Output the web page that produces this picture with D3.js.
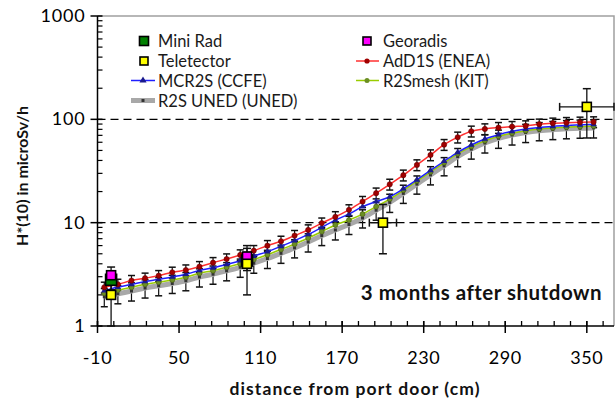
<!DOCTYPE html>
<html><head><meta charset="utf-8">
<script src="https://cdn.jsdelivr.net/npm/d3@7/dist/d3.min.js"></script>
<style>body{margin:0;background:#fff}svg{display:block;font-family:Lato,"Open Sans",sans-serif}</style>
</head><body><svg id="c" width="616" height="405"></svg>
<script>
const distances = [-5,5,15,25,35,45,55,65,75,85,95,105,115,125,135,145,155,165,175,185,195,205,215,225,235,245,255,265,275,285,295,305,315,325,335,345,355];
const ad1s   = [2.37,2.53,2.75,2.90,3.07,3.31,3.48,3.75,4.10,4.45,4.87,5.36,5.99,6.6,7.5,8.5,9.9,11.4,13.3,16.0,19.3,23.5,28.8,36.2,45.2,56.9,67.1,76.7,80.7,83.1,85.0,86.3,89.7,91.7,92.9,93.7,94.4];
const mcr2s  = [2.2,2.38,2.53,2.7,2.83,2.98,3.17,3.45,3.66,3.95,4.28,4.75,5.25,5.9,6.7,7.7,9.0,10.6,12.1,14.3,16.0,17.8,21.3,26,32,39.3,48,56.5,64.5,71,76.5,80.5,83.5,85.5,87,88.5,89.5];
const r2smesh= [2.07,2.23,2.37,2.53,2.65,2.79,2.96,3.24,3.43,3.70,4.0,4.4,4.9,5.5,6.2,7.1,8.2,9.5,10.6,12.1,14.3,16.9,20.6,25.3,31,38,46.5,54.5,62,68.5,73.5,77.5,80.5,82.5,84,85,86];
const uned   = [1.92,2.05,2.18,2.33,2.45,2.58,2.74,2.98,3.17,3.42,3.7,4.05,4.5,5.05,5.7,6.5,7.5,8.5,9.6,11.1,13.2,15.7,19.2,23.6,29,35.5,43.5,51.5,59,65.5,70.5,74.5,77.5,79.5,81,82,82.5];
const ad1sErr = 0.12, unedErr = 0.2;

const miniRadX = [0,100], miniRadY = [2.8,4.3];
const georadisX = [0,100], georadisY = [3.1,4.7];
const measErr = 0.2;
const teleX = [0,100,200,350], teleY = [2.0,4.0,10.0,132], teleXErr = [0,0,10,20];
const teleErr = 0.5;

const xTicks = [-10,50,110,170,230,290,350];
const yTicks = [1,10,100,1000];

const svg = d3.select("#c");
const x = d3.scaleLinear().domain([-10,370]).range([97.5,614]);
const y = d3.scaleLog().domain([1,1000]).range([326,16]);

// frame
svg.append("path").attr("d",`M97.5,16H614V326`).attr("fill","none").attr("stroke","#a0a0a0").attr("stroke-width",1.5);

// dashed reference lines
[10,100].forEach(v=>{
  svg.append("line").attr("x1",97.5).attr("x2",614).attr("y1",y(v)).attr("y2",y(v))
    .attr("stroke","#000").attr("stroke-width",1.3).attr("stroke-dasharray","8,5");
});

// axes
const xMinor = d3.range(-10,371,12);
const gx = svg.append("g").attr("transform","translate(0,326)");
gx.append("line").attr("x1",97.5).attr("x2",614).attr("stroke","#000").attr("stroke-width",1.5);
gx.selectAll(".mn").data(xMinor).join("line").attr("x1",d=>x(d)).attr("x2",d=>x(d)).attr("y1",0).attr("y2",-5).attr("stroke","#000").attr("stroke-width",1.3);
gx.selectAll(".mj").data(xTicks).join("line").attr("x1",d=>x(d)).attr("x2",d=>x(d)).attr("y1",-5).attr("y2",7).attr("stroke","#000").attr("stroke-width",1.5);
gx.selectAll("text").data(xTicks).join("text").attr("x",d=>x(d)).attr("y",38).attr("text-anchor","middle")
  .attr("font-size",18).attr("letter-spacing",0.6).attr("fill","#000").text(d=>d);

const gy = svg.append("g").attr("transform","translate(97.5,0)");
gy.append("line").attr("y1",16).attr("y2",326).attr("stroke","#000").attr("stroke-width",1.5);
const yMinor = [];
[1,10,100].forEach(b=>{for(let k=2;k<10;k++) yMinor.push(b*k);});
gy.selectAll(".mn").data(yMinor).join("line").attr("y1",d=>y(d)).attr("y2",d=>y(d)).attr("x1",0).attr("x2",5).attr("stroke","#000").attr("stroke-width",1.2);
gy.selectAll(".mj").data(yTicks).join("line").attr("y1",d=>y(d)).attr("y2",d=>y(d)).attr("x1",-7).attr("x2",5).attr("stroke","#000").attr("stroke-width",1.5);
gy.selectAll("text").data(yTicks).join("text").attr("x",-12).attr("y",d=>y(d)+6).attr("text-anchor","end")
  .attr("font-size",18).attr("letter-spacing",0.8).attr("fill","#000").text(d=>d);

svg.append("text").attr("transform","translate(28,176) rotate(-90)").attr("text-anchor","middle")
  .attr("font-size",16).attr("font-weight",700).attr("fill","#111").text("H*(10) in microSv/h");
svg.append("text").attr("x",355).attr("y",395).attr("text-anchor","middle")
  .attr("font-size",17.5).attr("letter-spacing",1.1).attr("font-weight",700).attr("fill","#111").text("distance from port door (cm)");
svg.append("text").attr("x",602).attr("y",300).attr("text-anchor","end")
  .attr("font-size",20.5).attr("letter-spacing",0.5).attr("font-weight",700).attr("fill","#111").text("3 months after shutdown");

const line = d3.line().x((d,i)=>x(distances[i])).y(d=>y(d)).curve(d3.curveMonotoneX);
const gErr = svg.append("g");
function errBars(vals, frac){
  vals.forEach((v,i)=>{
    const xx = x(distances[i]), y1 = y(v*(1+frac)), y2 = y(v*(1-frac));
    gErr.append("line").attr("x1",xx).attr("x2",xx).attr("y1",y1).attr("y2",y2).attr("stroke","#111").attr("stroke-width",1.2);
    [y1,y2].forEach(yy=>gErr.append("line").attr("x1",xx-3.5).attr("x2",xx+3.5).attr("y1",yy).attr("y2",yy).attr("stroke","#111").attr("stroke-width",1.5));
  });
}
// UNED thick gray
errBars(uned, unedErr);
svg.append("path").datum(uned).attr("d",line).attr("fill","none").attr("stroke","#a8a8a8").attr("stroke-width",5);
svg.selectAll(".un").data(uned).join("rect").attr("x",(d,i)=>x(distances[i])-1.5).attr("y",d=>y(d)-1.5).attr("width",3).attr("height",3).attr("fill","#333");
// R2Smesh
svg.append("path").datum(r2smesh).attr("d",line).attr("fill","none").attr("stroke","#99cc00").attr("stroke-width",1.5);
svg.selectAll(".km").data(r2smesh).join("circle").attr("cx",(d,i)=>x(distances[i])).attr("cy",d=>y(d)).attr("r",2.5).attr("fill","#6b8e23").attr("stroke","#445511").attr("stroke-width",0.6);
// MCR2S
svg.append("path").datum(mcr2s).attr("d",line).attr("fill","none").attr("stroke","#1f1fff").attr("stroke-width",1.5);
svg.selectAll(".mc").data(mcr2s).join("path").attr("transform",(d,i)=>`translate(${x(distances[i])},${y(d)})`).attr("d",d3.symbol(d3.symbolTriangle,18)()).attr("fill","#1a1a8c");
// AdD1S
errBars(ad1s, ad1sErr);
svg.append("path").datum(ad1s).attr("d",line).attr("fill","none").attr("stroke","#ff3030").attr("stroke-width",1.5);
svg.selectAll(".ad").data(ad1s).join("circle").attr("cx",(d,i)=>x(distances[i])).attr("cy",d=>y(d)).attr("r",2.6).attr("fill","#a00000").attr("stroke","#600").attr("stroke-width",0.6);

// measurements
const gm = svg.append("g");
function vbar(xv, v, frac, xe){
  const xx = x(xv), y1 = y(v*(1+frac)), y2 = y(Math.max(v*(1-frac),1));
  gm.append("line").attr("x1",xx).attr("x2",xx).attr("y1",y1).attr("y2",y2).attr("stroke","#111").attr("stroke-width",1.3);
  [y1,y2].forEach(yy=>gm.append("line").attr("x1",xx-4).attr("x2",xx+4).attr("y1",yy).attr("y2",yy).attr("stroke","#111").attr("stroke-width",1.5));
  if(xe){
    const x1 = x(xv-xe), x2 = x(xv+xe), yy = y(v);
    gm.append("line").attr("x1",x1).attr("x2",x2).attr("y1",yy).attr("y2",yy).attr("stroke","#111").attr("stroke-width",1.3);
    [x1,x2].forEach(xq=>gm.append("line").attr("x1",xq).attr("x2",xq).attr("y1",yy-4).attr("y2",yy+4).attr("stroke","#111").attr("stroke-width",1.5));
  }
}
function sq(g, cx, cy, s, fill){
  g.append("rect").attr("x",cx-s/2).attr("y",cy-s/2).attr("width",s).attr("height",s).attr("fill",fill).attr("stroke","#000").attr("stroke-width",1.6);
}
miniRadX.forEach((d,i)=>vbar(d,miniRadY[i],measErr));
georadisX.forEach((d,i)=>vbar(d,georadisY[i],measErr));
teleX.forEach((d,i)=>vbar(d,teleY[i],teleErr,teleXErr[i]));
miniRadX.forEach((d,i)=>sq(gm,x(d),y(miniRadY[i]),11,"#008000"));
georadisX.forEach((d,i)=>sq(gm,x(d),y(georadisY[i]),9,"#ff00ff"));
teleX.forEach((d,i)=>sq(gm,x(d),y(teleY[i]),9,"#ffff00"));

// legend
const lg = svg.append("g").attr("font-size",16.5).attr("fill","#1a1a1a");
function ltext(xx,yy,t){lg.append("text").attr("x",xx).attr("y",yy+6).text(t);}
sq(lg,144,41,9,"#008000"); ltext(158,41,"Mini Rad");
sq(lg,144,61,8,"#ffff00"); ltext(158,61,"Teletector");
lg.append("line").attr("x1",131).attr("x2",155).attr("y1",80.5).attr("y2",80.5).attr("stroke","#1f1fff").attr("stroke-width",1.5);
lg.append("path").attr("transform","translate(143,80.5)").attr("d",d3.symbol(d3.symbolTriangle,22)()).attr("fill","#1a1a8c");
ltext(158,80.5,"MCR2S (CCFE)");
lg.append("line").attr("x1",131).attr("x2",155).attr("y1",100.5).attr("y2",100.5).attr("stroke","#a8a8a8").attr("stroke-width",5);
lg.append("rect").attr("x",141.5).attr("y",99).attr("width",3).attr("height",3).attr("fill","#333");
ltext(158,100.5,"R2S UNED (UNED)");
sq(lg,367,41,8,"#ff00ff"); ltext(383,41,"Georadis");
lg.append("line").attr("x1",356).attr("x2",379).attr("y1",61).attr("y2",61).attr("stroke","#ff3030").attr("stroke-width",1.5);
lg.append("circle").attr("cx",367).attr("cy",61).attr("r",2.6).attr("fill","#a00000");
ltext(383,61,"AdD1S (ENEA)");
lg.append("line").attr("x1",356).attr("x2",379).attr("y1",80.5).attr("y2",80.5).attr("stroke","#99cc00").attr("stroke-width",1.5);
lg.append("circle").attr("cx",367).attr("cy",80.5).attr("r",2.5).attr("fill","#6b8e23");
ltext(383,80.5,"R2Smesh (KIT)");
</script></body></html>
